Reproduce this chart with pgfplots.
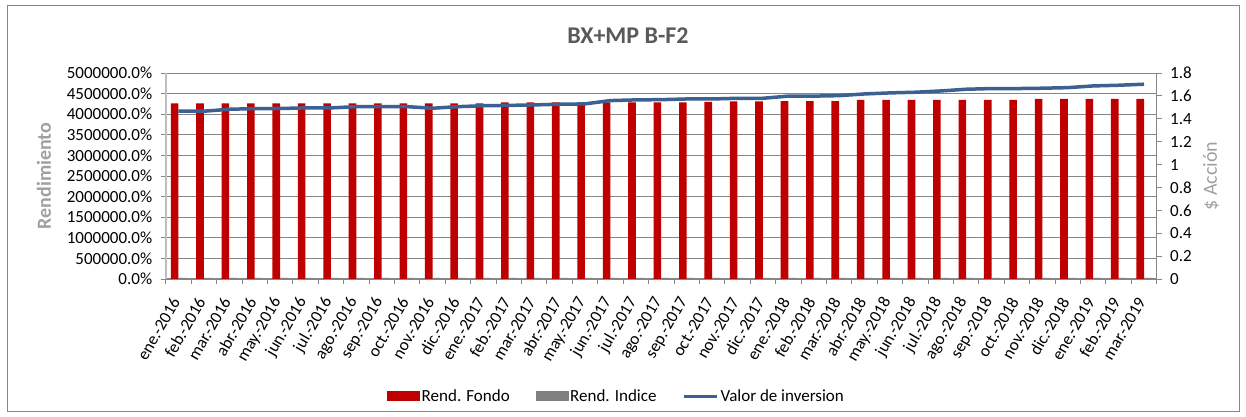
\documentclass[border=0pt]{standalone}
\usepackage{fontspec}
\setmainfont{Carlito}
\usepackage{pgfplots}
\usepackage{pgfplotstable}
\pgfplotsset{compat=1.18}
\definecolor{fondo}{RGB}{192,0,0}
\definecolor{indice}{RGB}{128,128,128}
\definecolor{valor}{RGB}{59,96,145}
\definecolor{gridc}{RGB}{134,134,134}
\definecolor{axisc}{RGB}{191,191,191}
\definecolor{labc}{RGB}{160,160,160}
\definecolor{titc}{RGB}{89,89,89}
\pgfplotstableread{
x fondo indice valor
0 4265000 30000 1.466
1 4265000 30000 1.466
2 4265000 30000 1.483
3 4265000 30000 1.489
4 4265000 30000 1.490
5 4265000 30000 1.495
6 4265000 30000 1.495
7 4265000 30000 1.506
8 4265000 30000 1.506
9 4265000 30000 1.506
10 4265000 30000 1.492
11 4265000 30000 1.506
12 4265000 30000 1.514
13 4290000 30000 1.517
14 4290000 30000 1.521
15 4290000 30000 1.527
16 4290000 30000 1.530
17 4285000 30000 1.559
18 4285000 30000 1.565
19 4285000 30000 1.567
20 4285000 30000 1.573
21 4300000 30000 1.573
22 4310000 30000 1.579
23 4310000 30000 1.579
24 4320000 30000 1.598
25 4320000 30000 1.598
26 4320000 30000 1.602
27 4345000 30000 1.617
28 4345000 30000 1.626
29 4345000 30000 1.632
30 4345000 30000 1.643
31 4345000 30000 1.658
32 4345000 30000 1.664
33 4345000 30000 1.664
34 4370000 30000 1.667
35 4370000 30000 1.672
36 4370000 30000 1.687
37 4370000 30000 1.693
38 4370000 30000 1.702
}\data
\begin{document}
\begin{tikzpicture}[x=1pt,y=1pt]
\useasboundingbox (0,0) rectangle (1246,417);
\draw[gridc, line width=1pt] (7.5,411.5) rectangle (1239.5,5.5);
\node[font=\fontsize{24}{28}\selectfont\bfseries, text=titc] at (628,381) {BX+MP B-F2};
\begin{axis}[
  at={(165.7pt,138pt)}, anchor=south west,
  scale only axis, width=991pt, height=206pt,
  xmin=-0.5, xmax=38.5, ymin=0, ymax=5000000,
  scaled y ticks=false,
  axis x line*=bottom, axis y line*=left,
  x axis line style={gridc, line width=1pt},
  y axis line style={axisc, line width=1.6pt},
  ybar=0pt, bar width=7.6pt,
  tick align=outside,
  xtick={0,...,38},
  xticklabels={ene.-2016,feb.-2016,mar.-2016,abr.-2016,may.-2016,jun.-2016,jul.-2016,ago.-2016,sep.-2016,oct.-2016,nov.-2016,dic.-2016,ene.-2017,feb.-2017,mar.-2017,abr.-2017,may.-2017,jun.-2017,jul.-2017,ago.-2017,sep.-2017,oct.-2017,nov.-2017,dic.-2017,ene.-2018,feb.-2018,mar.-2018,abr.-2018,may.-2018,jun.-2018,jul.-2018,ago.-2018,sep.-2018,oct.-2018,nov.-2018,dic.-2018,ene.-2019,feb.-2019,mar.-2019},
  major x tick style={draw=none},
  minor xtick={-0.5,0.5,...,38.5},
  minor x tick style={gridc, line width=0.8pt},
  minor tick length=5pt, major tick length=5pt,
  x tick label style={xshift=-2pt, yshift=-14pt, rotate=60, anchor=east, font=\fontsize{17}{20}\selectfont, inner sep=1pt},
  ytick={0,500000,1000000,1500000,2000000,2500000,3000000,3500000,4000000,4500000,5000000},
  yticklabels={0.0\%,500000.0\%,1000000.0\%,1500000.0\%,2000000.0\%,2500000.0\%,3000000.0\%,3500000.0\%,4000000.0\%,4500000.0\%,5000000.0\%},
  y tick label style={font=\fontsize{17}{20}\selectfont, xshift=-5pt},
  ytick style={gridc, line width=0.8pt},
  ymajorgrids, grid style={gridc, line width=0.8pt},
  ylabel={Rendimiento},
  every axis y label/.style={at={(rel axis cs:0,0.5)}, xshift=-121.7pt, rotate=90, anchor=center, font=\fontsize{20}{24}\selectfont\bfseries, text=labc},
]
\addplot[fill=fondo, draw=none] table[x=x,y=fondo]{\data};
\addplot[fill=indice, draw=none] table[x=x,y=indice]{\data};
\end{axis}
\begin{axis}[
  at={(165.7pt,138pt)}, anchor=south west,
  scale only axis, width=991pt, height=206pt,
  xmin=-0.5, xmax=38.5, ymin=0, ymax=1.8,
  axis x line=none, axis y line*=right,
  y axis line style={gridc, line width=1pt},
  tick align=outside, major tick length=5pt,
  ytick={0,0.2,0.4,0.6,0.8,1,1.2,1.4,1.6,1.8},
  yticklabels={0,0.2,0.4,0.6,0.8,1,1.2,1.4,1.6,1.8},
  y tick label style={font=\fontsize{17}{20}\selectfont, xshift=5pt},
  ytick style={gridc, line width=0.8pt},
  ylabel={\$ Acción},
  every axis y label/.style={at={(rel axis cs:1,0.5)}, xshift=54.3pt, rotate=90, anchor=center, font=\fontsize{20}{24}\selectfont, text=labc},
  legend style={at={(0.455,-0.568)}, anchor=center, draw=none, fill=none, legend columns=3,
    font=\fontsize{17}{20}\selectfont, /tikz/every even column/.append style={column sep=24pt},
    nodes={inner sep=2pt}},
]
\addlegendimage{legend image code/.code={\fill[fondo] (0pt,-4.5pt) rectangle (32pt,4.5pt);}}
\addlegendentry{Rend. Fondo}
\addlegendimage{legend image code/.code={\fill[indice] (0pt,-4.5pt) rectangle (32pt,4.5pt);}}
\addlegendentry{Rend. Indice}
\addplot[valor, line width=3.5pt, legend image code/.code={\draw[valor, line width=3pt] (0pt,0pt) -- (33pt,0pt);}] table[x=x,y=valor]{\data};
\addlegendentry{Valor de inversion}
\end{axis}
\end{tikzpicture}
\end{document}
